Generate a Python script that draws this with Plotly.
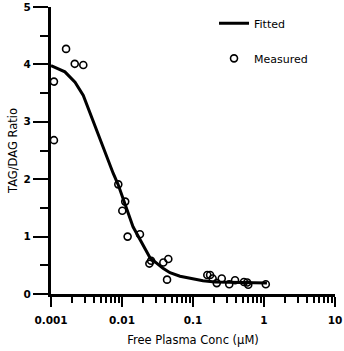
import plotly.graph_objects as go

measured_x = [0.00110, 0.00110, 0.00163, 0.00216, 0.00285, 0.00887, 0.0101, 0.0111,
              0.0120, 0.0179, 0.0243, 0.0257, 0.0382, 0.0431, 0.0449, 0.159, 0.174,
              0.189, 0.216, 0.254, 0.324, 0.391, 0.522, 0.58, 0.60, 1.06]
measured_y = [3.70, 2.68, 4.27, 4.01, 3.99, 1.91, 1.45, 1.61, 1.00, 1.04, 0.53, 0.58,
              0.55, 0.25, 0.61, 0.33, 0.33, 0.27, 0.19, 0.27, 0.17, 0.24, 0.21, 0.20,
              0.16, 0.17]

# Fitted curve
fitted_x = [0.001, 0.00157, 0.00218, 0.00285, 0.00753, 0.00879, 0.0143, 0.0248,
            0.0378, 0.0474, 0.0656, 0.138, 0.204, 1.10]
fitted_y = [3.98, 3.87, 3.69, 3.46, 2.10, 1.91, 1.17, 0.63, 0.45, 0.37, 0.31, 0.23,
            0.21, 0.19]

x_tickvals = [0.001, 0.01, 0.1, 1, 10]
x_ticktext = ["0.001", "0.01", "0.1", "1", "10"]
x_minor_vals = [m * d for d in [0.001, 0.01, 0.1, 1] for m in range(2, 10)]
y_tickvals = [0, 1, 2, 3, 4, 5]
y_minor_vals = [0.5, 1.5, 2.5, 3.5, 4.5]

FONT = "DejaVu Sans"

fig = go.Figure()
fig.add_trace(go.Scatter(
    x=fitted_x, y=fitted_y, mode="lines", name="Fitted", showlegend=True,
    line=dict(color="black", width=3), legend="legend"))
fig.add_trace(go.Scatter(
    x=measured_x, y=measured_y, mode="markers", name="Measured", showlegend=True,
    marker=dict(symbol="circle-open", size=7, color="black", line=dict(width=1.6)),
    legend="legend2"))

fig.update_layout(
    width=344, height=351,
    margin=dict(l=51, r=9, t=6.5, b=57, autoexpand=False),
    showlegend=True,
    paper_bgcolor="white", plot_bgcolor="white",
    font=dict(family=FONT, size=11, color="black"),
    legend=dict(x=0.574, y=0.943, xanchor="left", yanchor="middle",
                bgcolor="rgba(0,0,0,0)", font=dict(size=11)),
    legend2=dict(x=0.574, y=0.821, xanchor="left", yanchor="middle",
                 bgcolor="rgba(0,0,0,0)", font=dict(size=11)),
    xaxis=dict(
        type="log", range=[-3, 1], showgrid=False, zeroline=False, automargin=False,
        showline=True, linewidth=3, linecolor="black",
        ticks="outside", ticklen=10, tickwidth=2, tickcolor="black",
        tickvals=x_tickvals, ticktext=x_ticktext,
        tickfont=dict(family=FONT, size=10.5, weight="bold"),
        ticklabelstandoff=4,
        minor=dict(ticks="outside", ticklen=6, tickwidth=2, tickcolor="black",
                   tickmode="array", tickvals=x_minor_vals, showgrid=False),
        title=dict(text="Free Plasma Conc (μM)", font=dict(size=11.5), standoff=12),
    ),
    yaxis=dict(
        range=[0, 5], showgrid=False, zeroline=False, automargin=False,
        showline=True, linewidth=3, linecolor="black",
        ticks="outside", ticklen=15, tickwidth=2, tickcolor="black",
        tickvals=y_tickvals,
        tickfont=dict(family=FONT, size=10.5, weight="bold"),
        minor=dict(ticks="outside", ticklen=8, tickwidth=2, tickcolor="black",
                   tickmode="array", tickvals=y_minor_vals, showgrid=False),
        title=dict(text="TAG/DAG Ratio", font=dict(size=11.5), standoff=4),
    ),
)

fig.write_html("out.html", config={"displayModeBar": False},
               post_script="document.body.style.margin='0';document.body.style.overflow='hidden';")
